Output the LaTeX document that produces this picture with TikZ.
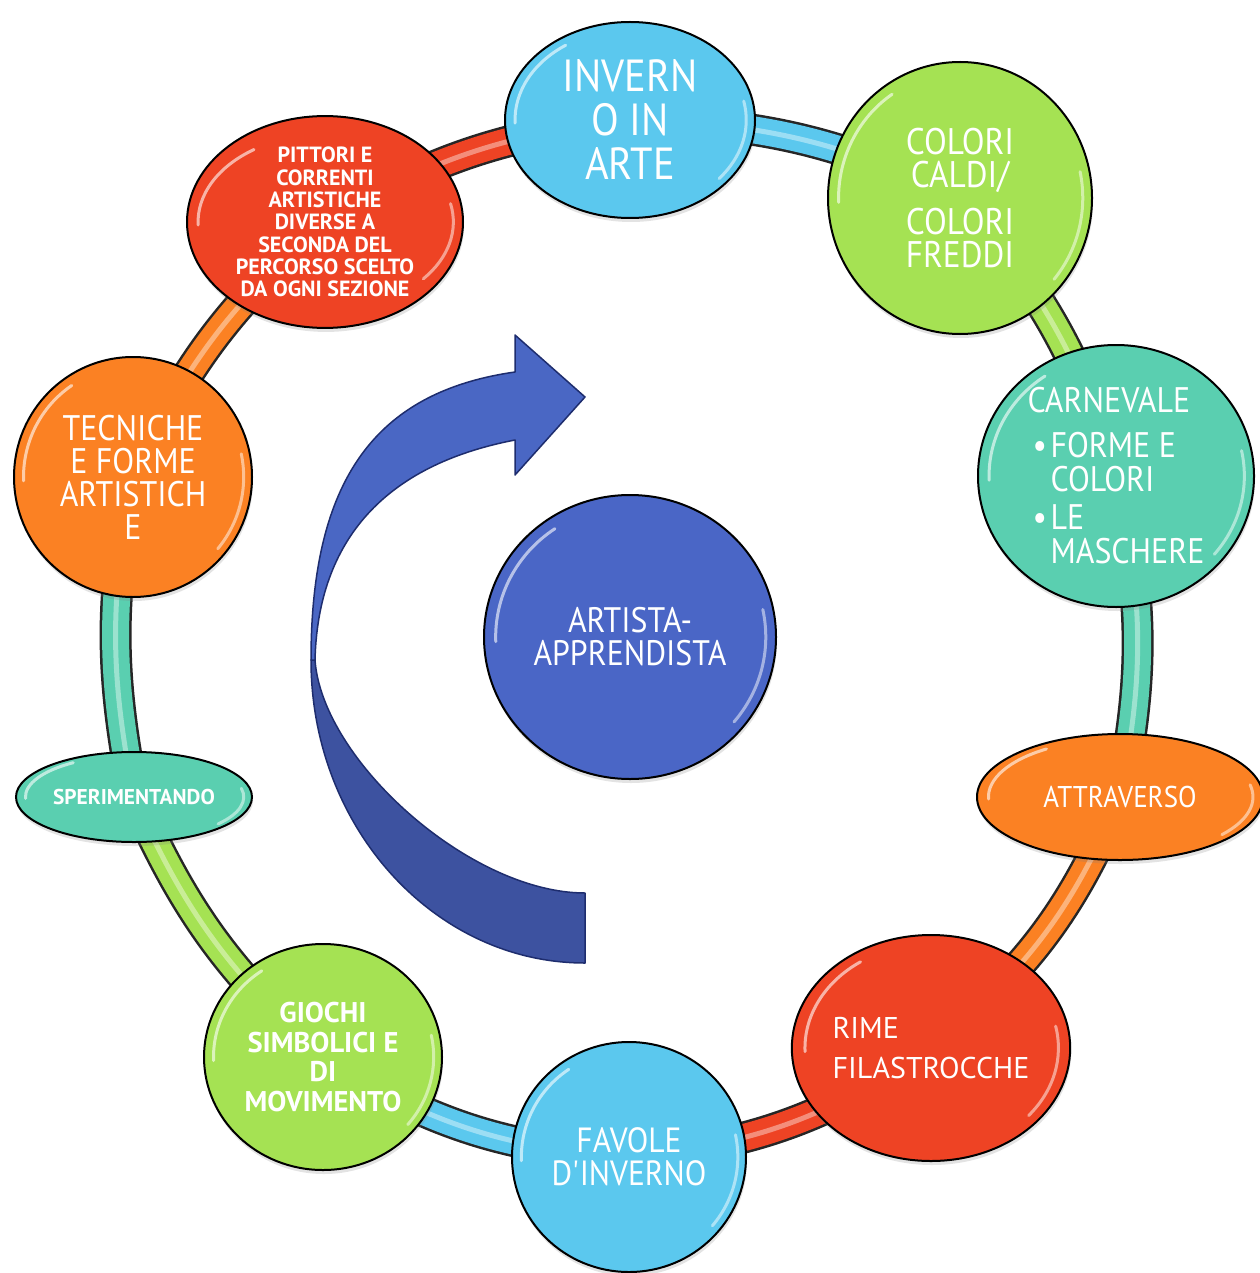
\documentclass[tikz,border=0pt]{standalone}
\usepackage{fontspec}
\setmainfont{PT Sans}[FakeStretch=0.9]
\newfontfamily\wfont{PT Sans}
\usetikzlibrary{shapes.geometric,shadows,backgrounds}
\definecolor{cblue}{RGB}{91,200,238}
\definecolor{cgreen}{RGB}{165,226,83}
\definecolor{cteal}{RGB}{90,207,176}
\definecolor{corange}{RGB}{251,129,35}
\definecolor{cred}{RGB}{238,67,36}
\definecolor{ccenter}{RGB}{74,102,198}
\definecolor{arrowup}{RGB}{74,103,196}
\definecolor{arrowlow}{RGB}{61,82,160}
\definecolor{arrowline}{RGB}{30,45,110}
\tikzset{
  bubble/.style={ellipse, draw=black, line width=2pt, text=white, align=center, inner sep=0pt,
     drop shadow={opacity=0.22, shadow xshift=1pt, shadow yshift=-4pt}},
  tubeout/.style={line width=32pt, draw=black!85},
  tubein/.style={line width=27pt},
  tubeshine/.style={line width=5pt, draw=white, opacity=0.4},
  glossline/.style={draw=white, line width=3pt, opacity=0.6, line cap=round},
  arrowpart/.style={draw=arrowline, line width=1.5pt, line join=round},
}
\newcommand\mytube[4]{%
  \draw[tubeout] (#1.center) to[bend left=#4] (#2.center);
  \draw[tubein, draw=#3] (#1.center) to[bend left=#4] (#2.center);
  \draw[tubeshine] (#1.center) to[bend left=#4] (#2.center);
}
\newcommand\mygloss[3]{%
  \draw[glossline] (#1.center) ++(178:{0.92*#2} and {0.92*#3}) arc[start angle=178, end angle=236, x radius={0.92*#2}, y radius={0.92*#3}];
  \draw[glossline, opacity=0.5] (#1.center) ++(-12:{0.93*#2} and {0.93*#3}) arc[start angle=-12, end angle=40, x radius={0.93*#2}, y radius={0.93*#3}];
}
\begin{document}
\begin{tikzpicture}[x=1pt,y=-1pt]
\useasboundingbox (0,0) rectangle (1259,1273);

% curved arrow
\path[arrowpart, fill=arrowlow] (311,660) .. controls (311,827) and (434,963) .. (585,963)
   -- (585,893) .. controls (470,893) and (322,760) .. (315,660) -- cycle;
\path[arrowpart, fill=arrowup] (311,660) .. controls (311,480) and (375,392) .. (515,372)
   -- (515,335) -- (585,397) -- (515,475) -- (515,440)
   .. controls (385,465) and (318,540) .. (315,660) -- cycle;

% nodes
\node[bubble, fill=cblue, minimum width=250pt, minimum height=196pt, font=\fontsize{45}{44}\selectfont] (inv) at (630,120) {INVERN\\O IN\\ARTE};
\node[bubble, fill=cgreen, minimum width=264pt, minimum height=272pt, font=\fontsize{37}{33}\selectfont] (col) at (960,198) {COLORI\\CALDI/\\[14pt]COLORI\\FREDDI};
\node[bubble, fill=cteal, minimum width=276pt, minimum height=262pt, align=left, font=\fontsize{35.5}{34}\selectfont] (car) at (1116,476) {CARNEVALE\\[11pt]\hspace*{5pt}\makebox[18pt][l]{\textbullet}FORME E\\\hspace*{23pt}COLORI\\[4pt]\hspace*{5pt}\makebox[18pt][l]{\textbullet}LE\\\hspace*{23pt}MASCHERE};
\node[bubble, fill=corange, minimum width=286pt, minimum height=126pt, font=\fontsize{30}{30}\selectfont] (att) at (1120,797) {ATTRAVERSO};
\node[bubble, fill=cred, minimum width=274pt, minimum height=226pt, align=left, font=\wfont\fontsize{30}{30}\selectfont] (rime) at (931,1048) {RIME\\[10pt]FILASTROCCHE};
\node[bubble, fill=cblue, minimum width=234pt, minimum height=230pt, font=\fontsize{35}{33}\selectfont] (fav) at (629,1157) {FAVOLE\\D\textquotesingle INVERNO};
\node[bubble, fill=cgreen, minimum width=238pt, minimum height=226pt, font=\wfont\bfseries\fontsize{28.5}{29.7}\selectfont] (gio) at (323,1057) {GIOCHI\\SIMBOLICI E\\DI\\MOVIMENTO};
\node[bubble, fill=cteal, minimum width=236pt, minimum height=90pt, font=\wfont\bfseries\fontsize{21.4}{22}\selectfont] (sper) at (134,797) {SPERIMENTANDO};
\node[bubble, fill=corange, minimum width=238pt, minimum height=240pt, font=\fontsize{35.5}{33}\selectfont] (tec) at (133,477) {TECNICHE\\E FORME\\ARTISTICH\\E};
\node[bubble, fill=cred, minimum width=276pt, minimum height=190pt, font=\wfont\bfseries\fontsize{22}{22.3}\selectfont] (pit) at (325,222) {PITTORI E\\CORRENTI\\ARTISTICHE\\DIVERSE A\\SECONDA DEL\\PERCORSO SCELTO\\DA OGNI SEZIONE};
\node[bubble, fill=ccenter, minimum width=292pt, minimum height=284pt, font=\fontsize{35.4}{33}\selectfont] (art) at (630,637) {ARTISTA-\\APPRENDISTA};

% gloss highlights
\mygloss{inv}{125}{98}
\mygloss{col}{132}{136}
\mygloss{car}{138}{131}
\mygloss{att}{143}{63}
\mygloss{rime}{137}{113}
\mygloss{fav}{117}{115}
\mygloss{gio}{119}{113}
\mygloss{sper}{118}{45}
\mygloss{tec}{119}{120}
\mygloss{pit}{138}{95}
\mygloss{art}{146}{142}

% connectors
\begin{pgfonlayer}{background}
\fill[white] (0,0) rectangle (1259,1273);
\mytube{pit}{inv}{cred}{12}
\mytube{inv}{col}{cblue}{12}
\mytube{col}{car}{cgreen}{12}
\mytube{car}{att}{cteal}{12}
\mytube{att}{rime}{corange}{14}
\mytube{rime}{fav}{cred}{14}
\mytube{fav}{gio}{cblue}{14}
\mytube{gio}{sper}{cgreen}{12}
\mytube{sper}{tec}{cteal}{11}
\mytube{tec}{pit}{corange}{12}
\end{pgfonlayer}
\end{tikzpicture}
\end{document}
